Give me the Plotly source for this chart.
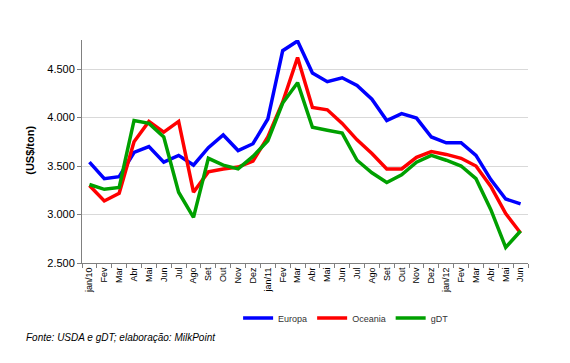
import plotly.graph_objects as go

months = ["jan/10", "Fev", "Mar", "Abr", "Mai", "Jun", "Jul", "Ago", "Set", "Out", "Nov", "Dez",
          "jan/11", "Fev", "Mar", "Abr", "Mai", "Jun", "Jul", "Ago", "Set", "Out", "Nov", "Dez",
          "jan/12", "Fev", "Mar", "Abr", "Mai", "Jun"]

europa = [3540, 3370, 3390, 3640, 3700, 3540, 3610, 3510, 3690, 3820, 3660, 3730,
          3985, 4690, 4790, 4460, 4370, 4410, 4330, 4190, 3970, 4040, 3995, 3800,
          3740, 3740, 3610, 3360, 3160, 3110]
oceania = [3300, 3140, 3220, 3750, 3960, 3850, 3960, 3230, 3440, 3470, 3490, 3550,
           3800, 4160, 4620, 4105, 4080, 3940, 3770, 3630, 3470, 3470, 3590, 3650,
           3620, 3580, 3500, 3290, 3010, 2810]
gdt = [3310, 3260, 3280, 3970, 3940, 3800, 3230, 2970, 3580, 3510, 3470, 3600,
       3760, 4150, 4360, 3900, 3870, 3840, 3560, 3430, 3330, 3410, 3540, 3610,
       3560, 3500, 3370, 3050, 2660, 2830]

series = [("Europa", europa, "#0000FF"), ("Oceania", oceania, "#FF0000"), ("gDT", gdt, "#00A000")]
xs = list(range(len(months)))

fig = go.Figure()
for name, vals, col in series:
    fig.add_trace(go.Scatter(x=xs, y=vals, mode="lines", name=name,
                             line=dict(color=col, width=3.5)))

fig.update_layout(
    width=570, height=363,
    margin=dict(l=74, r=50, t=32, b=108),
    paper_bgcolor="white", plot_bgcolor="white",
    separators=",.",
    font=dict(family="Arial, Liberation Sans, sans-serif", color="#000"),
    showlegend=True,
    legend=dict(orientation="h", x=0.35, y=-0.247, xanchor="left", yanchor="middle",
                font=dict(size=9, color="#333"), bgcolor="rgba(0,0,0,0)",
                itemwidth=30, tracegroupgap=0),
    xaxis=dict(range=[-0.5, len(months) - 0.5], tickmode="array", tickvals=xs, ticktext=months,
               tickangle=-90, tickfont=dict(size=9, color="#000"), ticks="",
               showgrid=False, zeroline=False, showline=True, linecolor="#808080", linewidth=1,
               minor=dict(tick0=-0.5, dtick=1, ticks="outside", ticklen=4, tickcolor="#808080",
                          showgrid=False)),
    yaxis=dict(range=[2500, 4800], tickmode="array", tickvals=[2500, 3000, 3500, 4000, 4500],
               tickformat=",.0f", tickfont=dict(size=11, color="#000"),
               ticks="outside", ticklen=4, tickcolor="#808080",
               showgrid=True, gridcolor="#D9D9D9", gridwidth=1, zeroline=False,
               showline=True, linecolor="#808080", linewidth=1),
    annotations=[
        dict(text="<b>(US$/ton)</b>", x=-0.117, y=0.507, xref="paper", yref="paper",
             textangle=-90, showarrow=False, font=dict(size=11, color="#000"),
             xanchor="center", yanchor="middle"),
        dict(text="<i>Fonte: USDA e gDT; elaboração: MilkPoint</i>", x=-0.13, y=-0.336,
             xref="paper", yref="paper", showarrow=False, font=dict(size=10, color="#000"),
             xanchor="left", yanchor="middle"),
    ],
)

fig.write_html("out.html")
